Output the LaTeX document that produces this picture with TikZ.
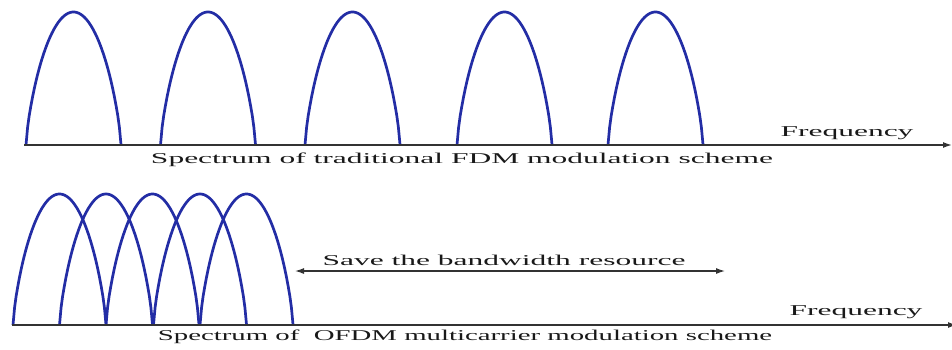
\documentclass[tikz,border=0pt]{standalone}
\usepackage{fontspec}
\setmainfont{Liberation Serif}
\usepackage{tikz}
\usetikzlibrary{positioning,arrows.meta}

\definecolor{lobeblue}{RGB}{35,45,165}
\newcommand{\widetext}[2][2.1]{\scalebox{#1}[1]{#2}}

\tikzset{
  lobe/.style={draw=lobeblue, line width=2.7pt, line join=round},
  axis/.style={draw=black!80, line width=1.4pt, -{Latex[length=9pt,width=6pt]}},
  label/.style={font=\fontsize{15}{18}\selectfont, text=black!90, inner sep=0pt}
}

\begin{document}
\begin{tikzpicture}[x=1pt, y=1pt]
				\useasboundingbox (0,0) rectangle (952,349);
				% FDM: separated subcarriers
				\draw[lobe, shift={(73.5,204)}] plot[domain=-1:1, samples=60] ({47.5*\x}, {133*pow(max(1-\x*\x,0.00001),0.75)});
				\draw[lobe, shift={(208,204)}] plot[domain=-1:1, samples=60] ({47.5*\x}, {133*pow(max(1-\x*\x,0.00001),0.75)});
				\draw[lobe, shift={(352.5,204)}] plot[domain=-1:1, samples=60] ({47.5*\x}, {133*pow(max(1-\x*\x,0.00001),0.75)});
				\draw[lobe, shift={(504.5,204)}] plot[domain=-1:1, samples=60] ({47.5*\x}, {133*pow(max(1-\x*\x,0.00001),0.75)});
				\draw[lobe, shift={(655.5,204)}] plot[domain=-1:1, samples=60] ({47.5*\x}, {133*pow(max(1-\x*\x,0.00001),0.75)});
				\coordinate (F0) at (24,204);
				\coordinate (F1) at (952,204);
				\draw[axis] (F0) -- (F1);
				\node[label] (freqA) at (847,216) {\widetext{Frequency}};
				\node[label] (capA) at (462,189) {\widetext{Spectrum of traditional FDM modulation scheme}};
				% OFDM: overlapping subcarriers
				\draw[lobe, shift={(59.5,24)}] plot[domain=-1:1, samples=60] ({46.5*\x}, {131*pow(max(1-\x*\x,0.00001),0.75)});
				\draw[lobe, shift={(106,24)}] plot[domain=-1:1, samples=60] ({46.5*\x}, {131*pow(max(1-\x*\x,0.00001),0.75)});
				\draw[lobe, shift={(152.5,24)}] plot[domain=-1:1, samples=60] ({46.5*\x}, {131*pow(max(1-\x*\x,0.00001),0.75)});
				\draw[lobe, shift={(200,24)}] plot[domain=-1:1, samples=60] ({46.5*\x}, {131*pow(max(1-\x*\x,0.00001),0.75)});
				\draw[lobe, shift={(246.5,24)}] plot[domain=-1:1, samples=60] ({46.5*\x}, {131*pow(max(1-\x*\x,0.00001),0.75)});
				\coordinate (O0) at (12,24);
				\coordinate (O1) at (957,24);
				\draw[axis] (O0) -- (O1);
				\node[label] (freqB) at (856,37) {\widetext{Frequency}};
				\node[label] (capB) at (465,12) {\widetext[1.92]{Spectrum of\ \ OFDM multicarrier modulation scheme}};
				% saved band
				\coordinate (S0) at (295,78);
				\coordinate (S1) at (725,78);
				\draw[axis, line width=1.2pt, {Latex[length=9pt,width=6pt]}-{Latex[length=9pt,width=6pt]}] (S0) -- (S1);
				\node[label] (save) at (504,89) {\widetext{Save the bandwidth resource}};
			\end{tikzpicture}
\end{document}
